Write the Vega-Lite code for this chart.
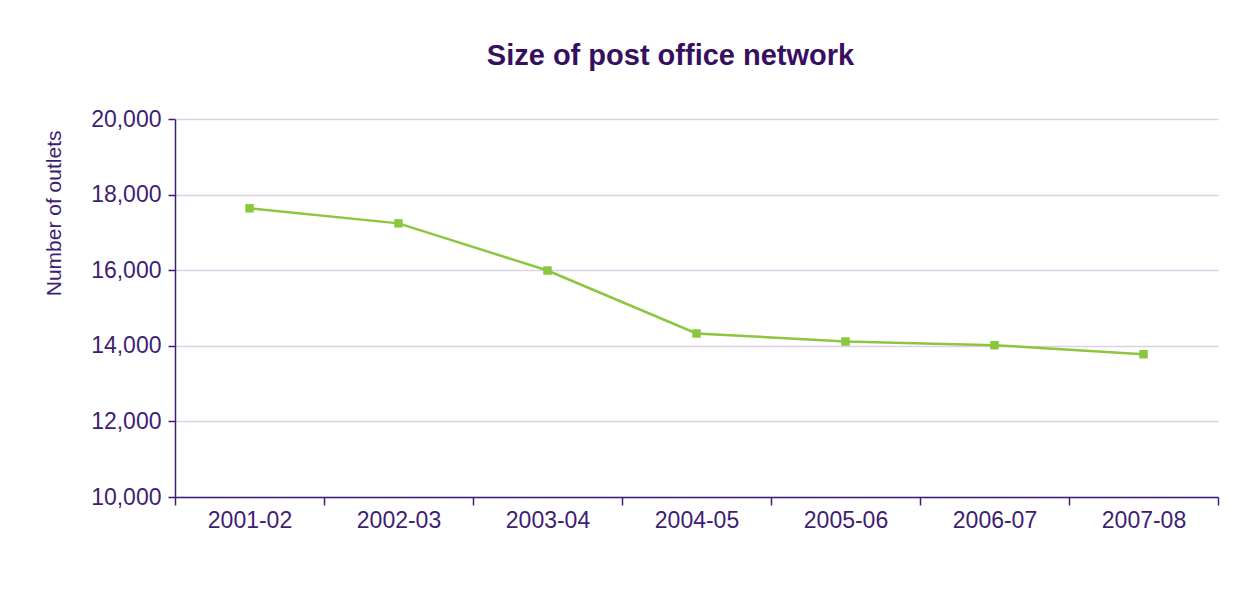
{
  "$schema": "https://vega.github.io/schema/vega-lite/v6.json",
  "autosize": {"type": "none"},
  "width": 1043,
  "height": 378,
  "padding": {"left": 175, "top": 119, "right": 36, "bottom": 92},
  "background": "white",
  "title": {
    "text": "Size of post office network",
    "font": "Liberation Sans",
    "fontSize": 29,
    "fontWeight": "bold",
    "color": "#36105f",
    "anchor": "middle",
    "dx": -26,
    "offset": 37
  },
  "data": {
    "values": [
      {"year": "2001-02", "outlets": 17637},
      {"year": "2002-03", "outlets": 17239},
      {"year": "2003-04", "outlets": 15992},
      {"year": "2004-05", "outlets": 14326},
      {"year": "2005-06", "outlets": 14114},
      {"year": "2006-07", "outlets": 14016},
      {"year": "2007-08", "outlets": 13777}
    ]
  },
  "encoding": {
    "x": {
      "field": "year",
      "type": "ordinal",
      "scale": {"type": "band", "paddingInner": 0, "paddingOuter": 0},
      "axis": {
        "title": null,
        "labelAngle": 0,
        "tickBand": "extent",
        "tickSize": 8,
        "labelPadding": 4,
        "grid": false
      }
    },
    "y": {
      "field": "outlets",
      "type": "quantitative",
      "scale": {"domain": [10000, 20000], "nice": false, "zero": false},
      "axis": {
        "title": "Number of outlets",
        "values": [10000, 12000, 14000, 16000, 18000, 20000],
        "format": ",d",
        "tickSize": 7,
        "labelPadding": 7,
        "titlePadding": 26,
        "titleAnchor": "end",
        "titleY": 11,
        "grid": true
      }
    }
  },
  "layer": [
    {"mark": {"type": "line", "color": "#8cc63e", "strokeWidth": 2.5}},
    {"mark": {"type": "point", "shape": "square", "filled": true, "size": 72, "color": "#8cc63e", "opacity": 1}}
  ],
  "config": {
    "view": {"stroke": null},
    "axis": {
      "labelFont": "Liberation Sans",
      "labelFontSize": 23,
      "labelColor": "#3d1e74",
      "titleFont": "Liberation Sans",
      "titleFontSize": 21,
      "titleFontWeight": "normal",
      "titleColor": "#3d1e74",
      "domainColor": "#3d1e74",
      "domainWidth": 1.5,
      "tickColor": "#3d1e74",
      "tickWidth": 1.5,
      "gridColor": "#d9d3e6",
      "gridWidth": 1.5
    }
  }
}
